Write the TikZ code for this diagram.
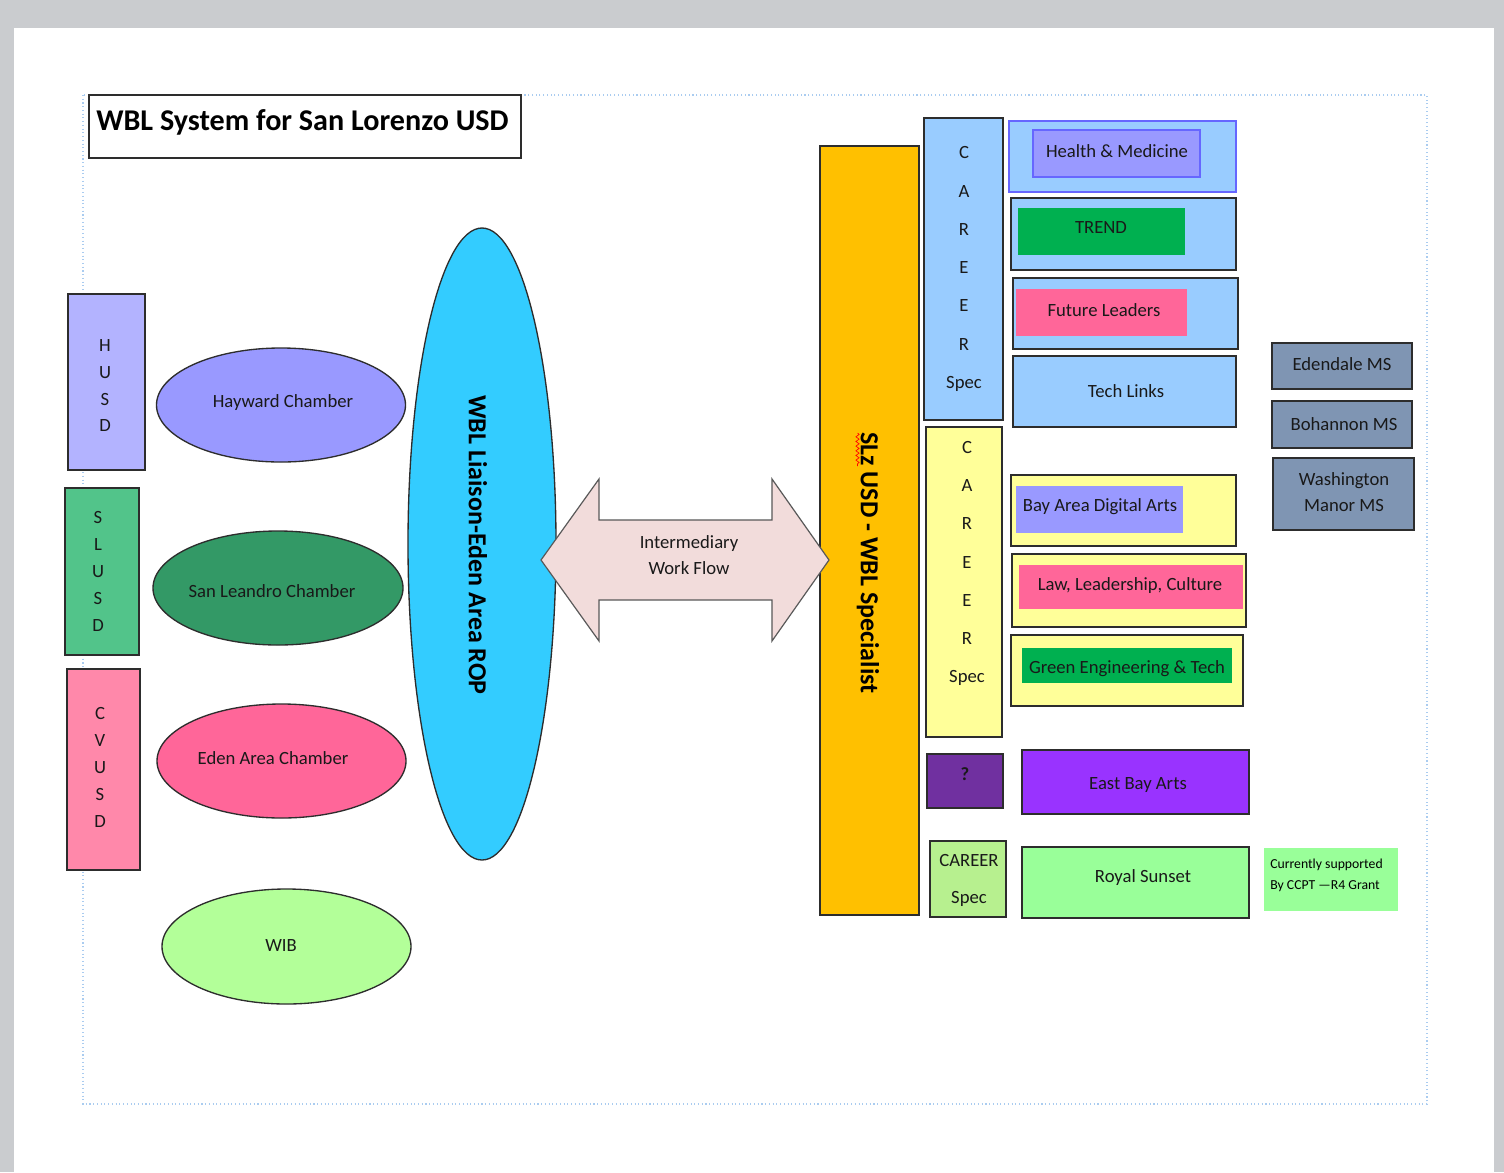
\documentclass[tikz,border=0pt]{standalone}
\usepackage{fontspec}
\setmainfont{Carlito}
\usetikzlibrary{fit,shapes.geometric,decorations.pathmorphing}

\definecolor{pagegray}{RGB}{202,204,207}
\definecolor{dotblue}{RGB}{170,204,240}
\definecolor{husdc}{RGB}{179,179,255}
\definecolor{slusdc}{RGB}{82,196,138}
\definecolor{cvusdc}{RGB}{255,136,170}
\definecolor{hayc}{RGB}{153,153,255}
\definecolor{sanlec}{RGB}{51,153,102}
\definecolor{edenc}{RGB}{255,102,153}
\definecolor{wibc}{RGB}{179,255,153}
\definecolor{ropc}{RGB}{51,204,255}
\definecolor{arrowfill}{RGB}{242,220,219}
\definecolor{arrowedge}{RGB}{89,89,89}
\definecolor{slzc}{RGB}{255,192,0}
\definecolor{lblue}{RGB}{153,204,255}
\definecolor{lyellow}{RGB}{255,255,153}
\definecolor{periw}{RGB}{153,153,255}
\definecolor{hmborder}{RGB}{102,102,255}
\definecolor{trendc}{RGB}{0,176,80}
\definecolor{pinkbox}{RGB}{255,102,153}
\definecolor{qpurple}{RGB}{112,48,160}
\definecolor{ebarts}{RGB}{153,51,255}
\definecolor{careergreen}{RGB}{183,240,143}
\definecolor{royalc}{RGB}{153,255,153}
\definecolor{slate}{RGB}{127,149,179}
\definecolor{edgec}{RGB}{45,45,45}

\tikzset{
  box/.style={inner sep=0pt, draw=edgec, line width=1.1pt},
  inbox/.style={inner sep=0pt},
  oval/.style={ellipse, inner sep=0pt, draw=edgec, line width=1pt},
  txt/.style={font=\fontsize{14}{17}\selectfont, inner sep=0pt, text=black!90},
  vcol/.style={font=\fontsize{14}{20.3}\selectfont, align=center, inner sep=0pt, text=black!90},
  ccol/.style={font=\fontsize{14}{28.7}\selectfont, align=center, inner sep=0pt, text=black!90},
  rtxt/.style={font=\bfseries\fontsize{19.5}{22}\selectfont, rotate=-90, inner sep=0pt}
}

\begin{document}
\begin{tikzpicture}[x=0.75pt,y=-0.75pt]
\useasboundingbox (0,0) rectangle (1504,1172);
\fill[pagegray] (0,0) rectangle (1504,1172);
\fill[white] (14,28) rectangle (1494,1172);
\draw[dotblue, dotted, line width=0.8pt] (83,95) rectangle (1427,1104);

% title
\node[box, fill=white, line width=1pt, fit={(89,95) (521,158)}] (titlebox) {};
\node[anchor=west, inner sep=0pt, font=\bfseries\fontsize{22.6}{26}\selectfont] (title) at (96,122) {WBL System for San Lorenzo USD};

% district columns
\node[box, fill=husdc, fit={(68,294) (145,470)}] (husd) {};
\node[vcol, font=\fontsize{14}{20}\selectfont] (husdt) at (105,386) {H\\U\\S\\D};
\node[box, fill=slusdc, fit={(65,488) (139,655)}] (slusd) {};
\node[vcol] (slusdt) at (98,571.5) {S\\L\\U\\S\\D};
\node[box, fill=cvusdc, fit={(67,669) (140,870)}] (cvusd) {};
\node[vcol] (cvusdt) at (100,767.5) {C\\V\\U\\S\\D};

% chambers
\node[oval, fill=hayc, minimum width=186.75pt, minimum height=85.5pt] (hay) at (281,405) {};
\node[txt] (hayt) at (283,403) {Hayward Chamber};
\node[oval, fill=sanlec, minimum width=187.5pt, minimum height=85.5pt] (sanle) at (278,588) {};
\node[txt] (sanlet) at (272,591) {San Leandro Chamber};
\node[oval, fill=edenc, minimum width=186.75pt, minimum height=85.5pt] (eden) at (281.5,761) {};
\node[txt] (edent) at (273,758) {Eden Area Chamber};
\node[oval, fill=wibc, minimum width=186.75pt, minimum height=86.25pt] (wib) at (286.5,946.5) {};
\node[txt] (wibt) at (281,945) {WIB};

% ROP
\node[oval, fill=ropc, minimum width=111pt, minimum height=474pt] (rop) at (482,544) {};
\node[rtxt] (ropt) at (478,545) {WBL Liaison-Eden Area ROP};

% SLz specialist
\node[box, fill=slzc, fit={(820,146) (919,915)}] (slz) {};
\node[rtxt] (slzt) at (868,563) {SLz USD - WBL Specialist};
\draw[red, line width=0.5pt, decorate, decoration={snake, amplitude=1.2pt, segment length=3.5pt}] (857.5,433) -- (857.5,466);

% double arrow (drawn over the ROP ellipse and the specialist bar)
\draw[fill=arrowfill, draw=arrowedge, line width=0.9pt, line join=miter]
  (541,560) -- (599,479) -- (599,520) -- (772,520) -- (772,479) -- (829,560)
  -- (772,641) -- (772,600) -- (599,600) -- (599,641) -- cycle;
\node[txt, align=center, font=\fontsize{14}{19.5}\selectfont] (flow) at (689,555) {Intermediary\\Work Flow};

% blue career column
\node[box, fill=lblue, fit={(924,118) (1003,420)}] (careerb) {};
\node[ccol] (careerbt) at (964,269) {C\\A\\R\\E\\E\\R\\Spec};

\node[inbox, fill=lblue, draw=hmborder, line width=1pt, fit={(1009,121) (1236,192)}] (hmout) {};
\node[inbox, fill=periw, draw=hmborder, line width=1pt, fit={(1033,130) (1200,177)}] (hmin) {};
\node[txt] (hmt) at (1117,151) {Health \& Medicine};

\node[box, fill=lblue, fit={(1011,198) (1236,270)}] (trendout) {};
\node[inbox, fill=trendc, fit={(1018,208) (1185,255)}] (trendin) {};
\node[txt] (trendt) at (1101,228) {TREND};

\node[box, fill=lblue, fit={(1013,278) (1238,349)}] (flout) {};
\node[inbox, fill=pinkbox, fit={(1016,289) (1187,336)}] (flin) {};
\node[txt] (flt) at (1104,310) {Future Leaders};

\node[box, fill=lblue, fit={(1013,356) (1236,427)}] (tech) {};
\node[txt] (techt) at (1126,391) {Tech Links};

% yellow career column
\node[box, fill=lyellow, fit={(926,427) (1002,737)}] (careery) {};
\node[ccol] (careeryt) at (967,563.5) {C\\A\\R\\E\\E\\R\\Spec};

\node[box, fill=lyellow, fit={(1011,475) (1236,546)}] (badaout) {};
\node[inbox, fill=periw, fit={(1016,486) (1183,533)}] (badain) {};
\node[txt] (badat) at (1100,507) {Bay Area Digital Arts};

\node[box, fill=lyellow, fit={(1012,554) (1246,627)}] (llcout) {};
\node[inbox, fill=pinkbox, fit={(1019,565) (1243,609)}] (llcin) {};
\node[txt] (llct) at (1130,586) {Law, Leadership, Culture};

\node[box, fill=lyellow, fit={(1011,635) (1243,706)}] (geout) {};
\node[inbox, fill=trendc, fit={(1022,648) (1232,683)}] (gein) {};
\node[txt] (get) at (1127,669) {Green Engineering \& Tech};

% purple
\node[box, fill=qpurple, fit={(927,754) (1003,808)}] (qbox) {};
\node[txt, font=\bfseries\fontsize{14}{17}\selectfont] (qt) at (965,774) {?};
\node[box, fill=ebarts, fit={(1022,750) (1249,814)}] (eba) {};
\node[txt] (ebat) at (1138,785) {East Bay Arts};

% green career
\node[box, fill=careergreen, fit={(930,841) (1006,917)}] (careerg) {};
\node[txt, align=center, font=\fontsize{14}{27.75}\selectfont] (careergt) at (969,880) {CAREER\\Spec};
\node[box, fill=royalc, fit={(1022,847) (1249,918)}] (royal) {};
\node[txt] (royalt) at (1143,878) {Royal Sunset};
\node[inbox, fill=royalc, fit={(1264,848) (1398,911)}] (ccpt) {};
\node[anchor=west, align=left, inner sep=0pt, font=\fontsize{10.3}{15.75}\selectfont] (ccptt) at (1270,875) {Currently supported\\By CCPT —R4 Grant};

% middle schools
\node[box, fill=slate, fit={(1272,343) (1412,389)}] (edms) {};
\node[txt] (edmst) at (1342,364) {Edendale MS};
\node[box, fill=slate, fit={(1272,401) (1412,448)}] (bhms) {};
\node[txt] (bhmst) at (1344,424) {Bohannon MS};
\node[box, fill=slate, fit={(1273,458) (1414,530)}] (wmms) {};
\node[txt, align=center, font=\fontsize{14}{19.5}\selectfont] (wmmst) at (1344,492) {Washington\\Manor MS};
\end{tikzpicture}
\end{document}
